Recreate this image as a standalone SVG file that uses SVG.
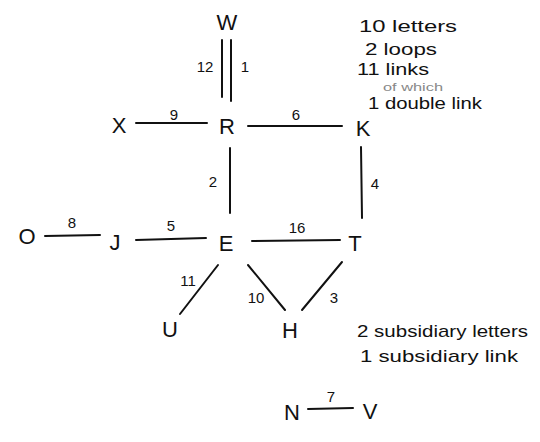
<svg xmlns="http://www.w3.org/2000/svg" width="540" height="442" viewBox="0 0 540 442">
<style>
.n{font-family:"Liberation Sans",Arial,sans-serif;font-size:22px;fill:#111;text-anchor:middle}
.l{font-family:"Liberation Sans",Arial,sans-serif;font-size:15px;fill:#111;text-anchor:middle}
.t{font-family:"Liberation Sans",Arial,sans-serif;font-size:17px;fill:#111}
.s{font-family:"Liberation Sans",Arial,sans-serif;font-size:11px;fill:#888}
.e{stroke:#111;stroke-width:2;fill:none;stroke-linecap:round}
</style>
<rect width="540" height="442" fill="#fff"/>
<g id="connectors">
<line class="e" x1="222" y1="40" x2="222" y2="97"/>
<line class="e" x1="231" y1="40" x2="231" y2="101"/>
<line class="e" x1="136" y1="123" x2="207" y2="123"/>
<line class="e" x1="248" y1="126" x2="342" y2="126"/>
<line class="e" x1="230" y1="148" x2="230" y2="213"/>
<line class="e" x1="361" y1="147" x2="362" y2="218"/>
<line class="e" x1="45" y1="236" x2="100" y2="235"/>
<line class="e" x1="136" y1="240" x2="206" y2="238"/>
<line class="e" x1="252" y1="241" x2="340" y2="240"/>
<line class="e" x1="218" y1="265" x2="180" y2="314"/>
<line class="e" x1="248" y1="265" x2="285" y2="310"/>
<line class="e" x1="342" y1="262" x2="302" y2="310"/>
<line class="e" x1="308" y1="409" x2="353" y2="408"/>
<text class="l" x="205" y="72">12</text>
<text class="l" x="245" y="72">1</text>
<text class="l" x="174" y="120">9</text>
<text class="l" x="296" y="120">6</text>
<text class="l" x="213" y="187">2</text>
<text class="l" x="375" y="189">4</text>
<text class="l" x="72" y="228">8</text>
<text class="l" x="171" y="231">5</text>
<text class="l" x="297" y="233">16</text>
<text class="l" x="188" y="286">11</text>
<text class="l" x="256" y="303">10</text>
<text class="l" x="334" y="303">3</text>
<text class="l" x="331" y="402">7</text>
</g>
<g id="W"><text class="n" x="227" y="30">W</text></g>
<g id="X"><text class="n" x="119" y="133">X</text></g>
<g id="R"><text class="n" x="227" y="134">R</text></g>
<g id="K"><text class="n" x="363" y="136">K</text></g>
<g id="O"><text class="n" x="27" y="244">O</text></g>
<g id="J"><text class="n" x="115" y="250">J</text></g>
<g id="E"><text class="n" x="226" y="251">E</text></g>
<g id="T"><text class="n" x="355" y="251">T</text></g>
<g id="U"><text class="n" x="170" y="337">U</text></g>
<g id="H"><text class="n" x="290" y="338">H</text></g>
<g id="N"><text class="n" x="292" y="420">N</text></g>
<g id="V"><text class="n" x="370" y="419">V</text></g>
<g id="notes">
<text class="t" x="359" y="32" textLength="98" lengthAdjust="spacingAndGlyphs">10 letters</text>
<text class="t" x="365" y="55" textLength="72" lengthAdjust="spacingAndGlyphs">2 loops</text>
<text class="t" x="357" y="75" textLength="72" lengthAdjust="spacingAndGlyphs">11 links</text>
<text class="s" x="383" y="91" textLength="60" lengthAdjust="spacingAndGlyphs">of which</text>
<text class="t" x="368" y="109" textLength="114" lengthAdjust="spacingAndGlyphs">1 double link</text>
<text class="t" x="357" y="337" textLength="171" lengthAdjust="spacingAndGlyphs">2 subsidiary letters</text>
<text class="t" x="360" y="362" textLength="158" lengthAdjust="spacingAndGlyphs">1 subsidiary link</text>
</g>
</svg>
